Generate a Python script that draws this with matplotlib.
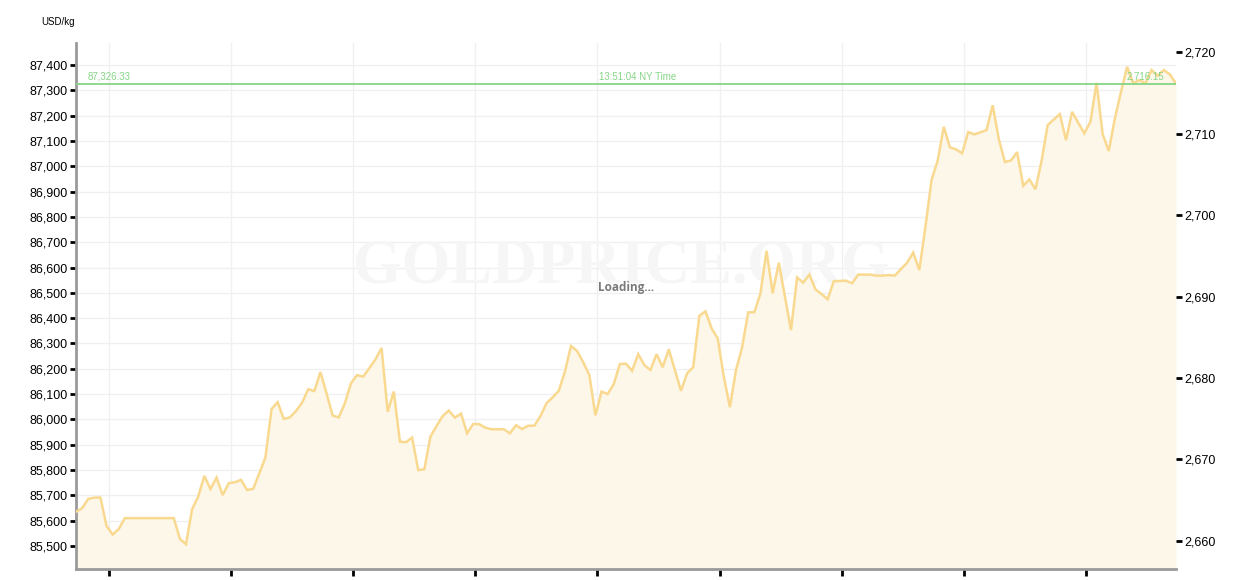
import matplotlib
matplotlib.use("Agg")
import matplotlib.pyplot as plt
import matplotlib.transforms as mtransforms
import numpy as np

plt.rcParams['font.family'] = ['Liberation Sans', 'DejaVu Sans']

# ---- data (USD/kg, one point every 3 minutes) ----
step_minutes = 3
prices_usd_kg = [
    85635, 85649, 85686, 85691, 85691, 85579, 85545, 85567,
    85610, 85610, 85610, 85610, 85610, 85610, 85610, 85610, 85610,
    85528, 85507, 85645, 85695, 85777, 85725, 85770, 85701, 85748,
    85752, 85761, 85721, 85726, 85787, 85850, 86041, 86068, 86002,
    86008, 86033, 86066, 86119, 86112, 86187, 86103, 86015, 86008,
    86064, 86143, 86175, 86169, 86202, 86237, 86282, 86030, 86110,
    85912, 85910, 85928, 85800, 85803, 85932, 85974, 86013, 86035,
    86007, 86023, 85945, 85982, 85981, 85967, 85961, 85961, 85961,
    85945, 85977, 85962, 85975, 85975, 86013, 86064, 86087, 86113,
    86188, 86290, 86270, 86226, 86175, 86016, 86110, 86100, 86140,
    86219, 86220, 86192, 86258, 86215, 86195, 86258, 86206, 86277,
    86195, 86113, 86182, 86206, 86409, 86427, 86360, 86320, 86169,
    86048, 86195, 86285, 86423, 86423, 86498, 86666, 86498, 86619,
    86485, 86353, 86561, 86540, 86572, 86514, 86495, 86475, 86546,
    86547, 86548, 86538, 86572, 86572, 86572, 86568, 86568, 86570,
    86568, 86594, 86619, 86659, 86590, 86761, 86946, 87022, 87156,
    87075, 87067, 87051, 87135, 87126, 87134, 87143, 87241, 87108,
    87017, 87023, 87056, 86923, 86948, 86909, 87021, 87163, 87185,
    87206, 87103, 87215, 87172, 87130, 87176, 87330, 87127, 87060,
    87189, 87294, 87393, 87328, 87341, 87328, 87380, 87358, 87380,
    87363, 87326.33,
]
current_price_kg = 87326.33
current_price_oz = 2716.15
current_time_label = "13:51:04 NY Time"
unit_label = "USD/kg"
oz_per_kg = 32.1507466

left_ticks = list(range(85500, 87401, 100))
right_ticks = list(range(2660, 2721, 10))
hour_tick_minutes = [16, 76, 136, 196, 256, 316, 376, 436, 496]

minutes = np.arange(len(prices_usd_kg)) * step_minutes

# ---- figure ----
W, H = 1248, 580
fig = plt.figure(figsize=(W / 100, H / 100), dpi=100)
ax = fig.add_axes([76 / W, 11 / H, 1100 / W, 526.5 / H])

line_color = '#f9d98f'
fill_color = '#fdf7ea'
green = '#86d486'

ylo, yhi = 85409, 87489
ax.set_xlim(0, minutes[-1])
ax.set_ylim(ylo, yhi)

ax.fill_between(minutes, prices_usd_kg, ylo, color=fill_color, zorder=2, lw=0)
ax.plot(minutes, prices_usd_kg, color=line_color, lw=1.8, zorder=4,
        solid_joinstyle='miter')

# grid
ax.set_yticks(left_ticks)
ax.set_yticklabels([f"{v:,}" for v in left_ticks])
ax.set_xticks(hour_tick_minutes)
ax.set_xticklabels([])
ax.grid(True, color='#f0f0f0', lw=1, zorder=0)
ax.set_axisbelow(True)

for s in ['top', 'right']:
    ax.spines[s].set_visible(False)
for s in ['left', 'bottom']:
    ax.spines[s].set_color('#9a9a9a')
    ax.spines[s].set_linewidth(2)

ax.tick_params(axis='y', direction='out', length=4, width=2, color='black',
               labelsize=9, pad=2)
ax.tick_params(axis='x', direction='out', length=5, width=2, color='black')

# right axis (USD/oz)
ax2 = ax.twinx()
ax2.set_ylim(ylo / oz_per_kg, yhi / oz_per_kg)
ax2.set_yticks(right_ticks)
ax2.set_yticklabels([f"{v:,}" for v in right_ticks])
for s in ax2.spines.values():
    s.set_visible(False)
ax2.tick_params(axis='y', direction='out', length=4, width=2, color='black',
                labelsize=9, pad=2)

# current price line
ax.axhline(current_price_kg, color=green, lw=1.3, zorder=5)
trans = mtransforms.blended_transform_factory(ax.transAxes, ax.transData)
off = mtransforms.offset_copy(trans, fig=fig, x=0, y=7, units='dots')
ax.text(12 / 1100, current_price_kg, f"{current_price_kg:,.2f}", transform=off,
        color=green, fontsize=7, va='center', ha='left', zorder=6)
ax.text(523 / 1100, current_price_kg, current_time_label, transform=off,
        color=green, fontsize=7, va='center', ha='left', zorder=6)
ax.text(1088 / 1100, current_price_kg, f"{current_price_oz:,.2f}", transform=off,
        color=green, fontsize=7, va='center', ha='right', zorder=6)

# watermark and loading text
ax.text(0.4955, 0.5717, "GOLDPRICE.ORG", transform=ax.transAxes,
        family=['Liberation Serif', 'DejaVu Serif'], fontweight='bold',
        fontsize=45, color='#f6f6f6', ha='center', va='center', zorder=1)
ax.text(0.5, 0.5356, "Loading...", transform=ax.transAxes,
        family=['Open Sans', 'DejaVu Sans'], fontweight='bold',
        fontsize=8.5, color='#7a7a7a', ha='center', va='center', zorder=6)

fig.text(41 / W, 1 - 22 / H, unit_label, fontsize=7, ha='left', va='center',
         color='black')

fig.savefig("out.png", dpi=100, facecolor='white')
